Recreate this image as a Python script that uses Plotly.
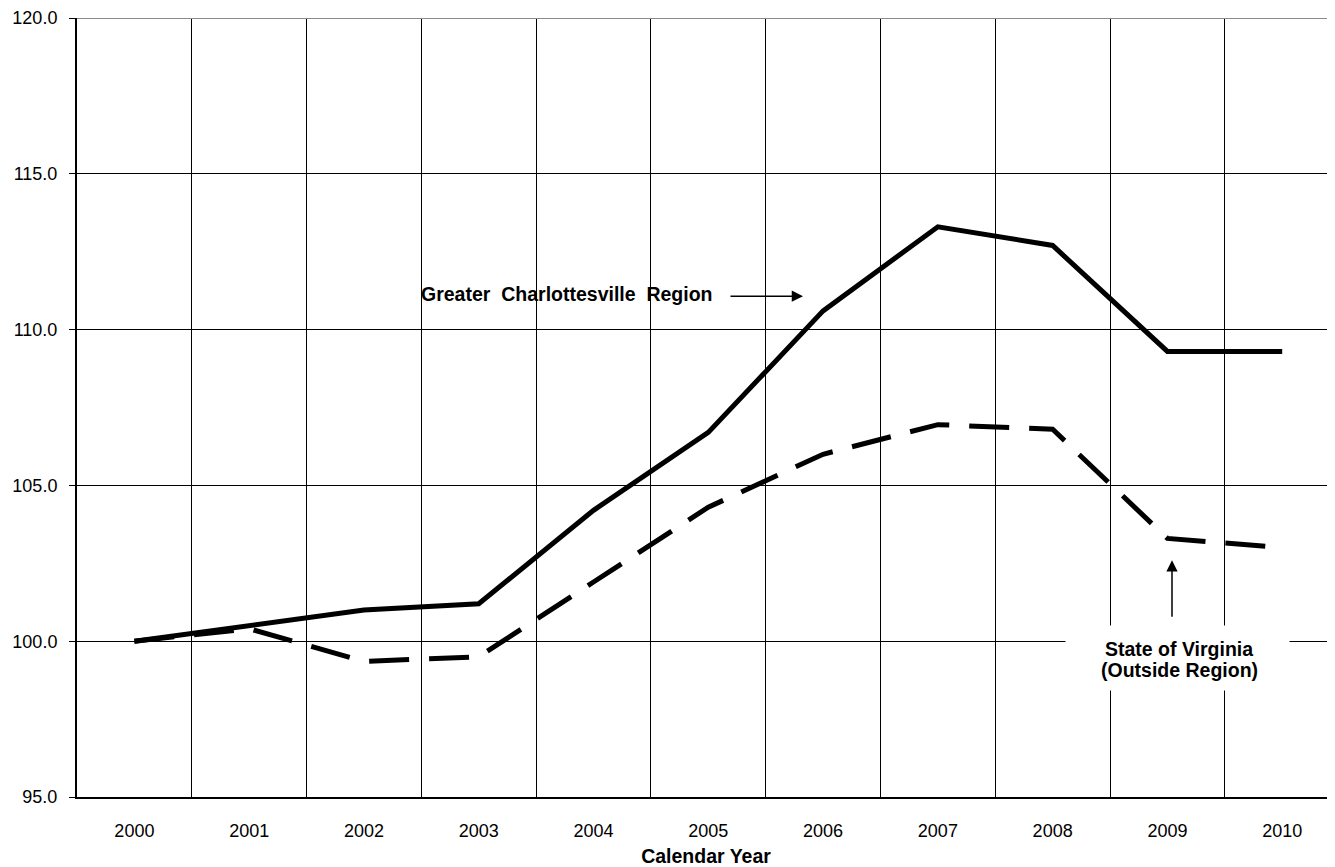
import plotly.graph_objects as go

years = ["2000", "2001", "2002", "2003", "2004", "2005", "2006", "2007", "2008", "2009", "2010"]
charlottesville = [100.0, 100.5, 101.0, 101.2, 104.2, 106.7, 110.6, 113.3, 112.7, 109.3, 109.3]
virginia = [100.0, 100.4, 99.35, 99.5, 101.9, 104.3, 106.0, 106.95, 106.8, 103.3, 103.0]
y_ticks = [95.0, 100.0, 105.0, 110.0, 115.0, 120.0]

FONT = "Liberation Sans, Arial, sans-serif"
OFF = 8  # page body margin
W, H = 1335 - OFF, 867 - OFF
L, R, T, B = 77 - OFF, 0, 18 - OFF, 70
PW = W - L - R

def px(p):
    return (p - 77) / PW

def yv(p):
    return 100 + (641 - p) / 31.16

fig = go.Figure()
fig.add_trace(go.Scatter(x=years, y=charlottesville, mode="lines",
                         line=dict(color="black", width=5), name="Greater Charlottesville Region"))
fig.add_trace(go.Scatter(x=years, y=virginia, mode="lines",
                         line=dict(color="black", width=5, dash="40px,20px"), name="State of Virginia"))

fig.update_layout(
    width=W, height=H,
    margin=dict(l=L, r=R, t=T, b=B, autoexpand=False),
    paper_bgcolor="white", plot_bgcolor="white",
    showlegend=False,
    font=dict(family=FONT, color="black", size=18),
    xaxis=dict(
        type="category", tickson="boundaries", range=[-0.5, 10.46],
        showgrid=True, gridcolor="black", gridwidth=1.3,
        ticks="", showline=True, linecolor="black", linewidth=2,
        tickfont=dict(size=18, color="black"), ticklabelstandoff=16,
        title=dict(text="<b>Calendar Year</b>", font=dict(size=19.5, color="black"), standoff=11),
        zeroline=False, automargin=False,
    ),
    yaxis=dict(
        range=[95, 120], tickvals=y_ticks, ticktext=[f"{v:.1f}" for v in y_ticks],
        showgrid=True, gridcolor="black", gridwidth=1,
        ticks="outside", ticklen=6, tickcolor="black", tickwidth=1,
        showline=True, linecolor="black", linewidth=2,
        tickfont=dict(size=18, color="black"), ticklabelstandoff=8,
        zeroline=False, automargin=False,
    ),
)

fig.add_shape(type="line", xref="paper", yref="y", x0=0, x1=1, y0=120, y1=120,
              line=dict(color="#8c8c8c", width=2), layer="above")

fig.add_annotation(xref="paper", yref="y", x=px(567), y=yv(294),
                   text="<b>Greater&nbsp; Charlottesville&nbsp; Region</b>", showarrow=False,
                   font=dict(size=19.5, color="black", family=FONT), xanchor="center", yanchor="middle")
fig.add_annotation(xref="paper", yref="y", x=px(803), y=yv(296), text="",
                   showarrow=True, ax=-74, ay=0, arrowhead=2, arrowwidth=1.5, arrowsize=1.5,
                   arrowcolor="black", standoff=0)
# white label box
fig.add_annotation(xref="paper", yref="y", x=px(1177.5), y=yv(658), text=" ", showarrow=False,
                   xanchor="center", yanchor="middle", width=223, height=64,
                   bgcolor="white", borderpad=0)
fig.add_annotation(xref="paper", yref="y", x=px(1179), y=yv(649),
                   text="<b>State of Virginia</b>", showarrow=False,
                   font=dict(size=19.5, color="black", family=FONT), xanchor="center", yanchor="middle")
fig.add_annotation(xref="paper", yref="y", x=px(1179), y=yv(670),
                   text="<b>(Outside Region)</b>", showarrow=False,
                   font=dict(size=19.5, color="black", family=FONT), xanchor="center", yanchor="middle")
fig.add_annotation(xref="paper", yref="y", x=px(1172), y=yv(560), text="",
                   showarrow=True, ax=0, ay=58, arrowhead=2, arrowwidth=1.5, arrowsize=1.5,
                   arrowcolor="black", standoff=0)

fig.write_html("out.html")
